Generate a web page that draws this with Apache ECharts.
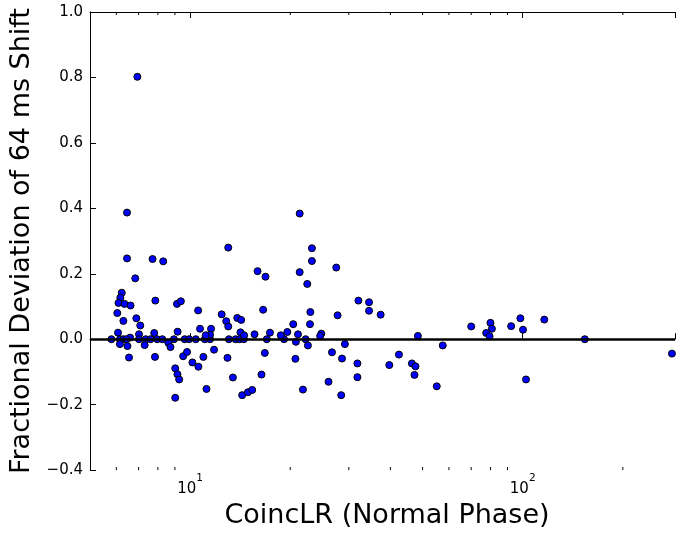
<!DOCTYPE html>
<html><head><meta charset="utf-8">
<script src="https://cdn.jsdelivr.net/npm/echarts@6/dist/echarts.min.js"></script>
<style>html,body{margin:0;padding:0;background:#fff}#c{width:678px;height:534px}</style>
</head><body><div id="c"></div>
<script>
// CoincLR (x) values
const coincLR = [
  6.94, 6.46, 6.46, 7.71, 8.30, 6.84, 6.23, 6.17, 6.09, 6.35, 6.62, 7.86, 9.13, 9.38, 6.04, 10.57,
  6.30, 6.89, 7.08, 9.17, 10.71, 6.07, 7.02, 7.80, 6.60,
  5.80, 6.15, 6.30, 6.43, 7.02, 7.35, 7.60, 7.96, 8.25, 8.94, 9.63, 9.93, 10.40, 11.07, 11.48,
  13.08, 13.70, 14.10, 14.51, 17.0, 19.16, 22.25,
  6.15, 6.48, 7.30, 8.60, 8.73, 6.55, 7.84, 9.53, 9.79, 10.16, 10.59, 10.96, 11.80, 9.02, 9.16,
  9.27, 11.20, 9.02,
  12.44, 12.84, 13.02, 13.86, 14.24, 16.58, 22.99, 27.76, 20.42, 22.93, 11.56, 11.48, 11.14,
  14.17, 14.53, 15.62, 17.38, 18.73, 19.60, 21.10, 24.80, 24.60, 20.80, 22.60, 29.20, 12.95,
  16.77, 20.73, 26.70, 28.62, 13.45, 16.39, 14.34, 14.92, 15.37, 21.84, 26.07, 28.46,
  13.02, 21.35, 15.95, 16.85, 23.24, 23.24, 21.35, 27.50, 22.50,
  32.06, 34.51, 34.51, 37.40, 31.84, 31.84, 39.71, 42.45, 46.43, 47.60, 47.27, 48.40, 57.49,
  55.15, 70.0, 80.0, 80.8, 77.66, 79.5, 92.3, 98.4, 100.2, 102.3, 116.1, 153.7, 281
];
// Fractional deviation (y) values
const fracDev = [
  0.802, 0.387, 0.247, 0.245, 0.238, 0.186, 0.142, 0.127, 0.111, 0.108, 0.103, 0.118, 0.108, 0.116, 0.080, 0.088,
  0.056, 0.064, 0.042, 0.023, 0.032, 0.020, 0.015, 0.019, 0.005,
  0, 0, 0, 0, 0, 0, 0, 0, 0, 0, 0, 0, 0, 0, 0,
  0, 0, 0, 0, 0, 0, 0,
  -0.015, -0.021, -0.018, -0.011, -0.024, -0.056, -0.054, -0.052, -0.039, -0.071, -0.084, -0.054, -0.032, -0.089, -0.107,
  -0.123, -0.152, -0.179,
  0.076, 0.055, 0.039, 0.065, 0.059, 0.090, 0.083, 0.073, 0.046, 0.046, 0.032, 0.014, 0.012,
  0.021, 0.012, 0.015, 0.020, 0.012, 0.022, 0.015, 0.017, 0.010, -0.008, -0.019, -0.015, -0.057,
  -0.042, -0.060, -0.040, -0.059, -0.117, -0.108, -0.171, -0.162, -0.155, -0.154, -0.130, -0.171,
  0.280, 0.384, 0.208, 0.191, 0.278, 0.239, 0.205, 0.219, 0.169,
  0.118, 0.113, 0.087, 0.075, -0.074, -0.116, -0.079, -0.047, -0.074, -0.083, -0.109, 0.010, -0.019,
  -0.144, 0.039, 0.050, 0.032, 0.019, 0.009, 0.040, 0.064, 0.029, -0.123, 0.060, 0.000, -0.044
];
const xRange = [5, 287];
const yRange = [-0.4, 1.0];
const yStep = 0.2;
const xMinorTicks = [6, 7, 8, 9, 20, 30, 40, 50, 60, 70, 80, 90, 200];
const refLineY = 0;
const xTitle = 'CoincLR (Normal Phase)';
const yTitle = 'Fractional Deviation of 64 ms Shift';

const FONT = 'DejaVu Sans';
const chart = echarts.init(document.getElementById('c'), null, {renderer: 'canvas'});
const points = coincLR.map((x, i) => [x, fracDev[i]]);
function isPow10(v) { const l = Math.log10(v); return Math.abs(l - Math.round(l)) < 1e-6; }
const xLabelFmt = v => isPow10(v) ? '{b|10}{s|' + Math.round(Math.log10(v)) + '}' : '';
const spine = {show: true, lineStyle: {color: '#000', width: 1}};

const option = {
  animation: false,
  grid: {left: 90, top: 12, right: 0, bottom: 62},
  xAxis: [{
    type: 'log', logBase: 10, min: xRange[0], max: xRange[1], position: 'bottom',
    name: xTitle, nameLocation: 'middle', nameGap: 26,
    nameTextStyle: {fontFamily: FONT, fontSize: 27, color: '#000', padding: [0, 0, 0, 9]},
    axisLine: spine,
    axisTick: {show: true, inside: true, length: 6, lineStyle: {color: '#000', width: 1}},
    axisLabel: {
      formatter: xLabelFmt, margin: 3,
      rich: {
        b: {fontFamily: FONT, fontSize: 15, color: '#000', lineHeight: 24, verticalAlign: 'bottom'},
        s: {fontFamily: FONT, fontSize: 10.5, color: '#000', lineHeight: 12, verticalAlign: 'top'}
      }
    },
    splitLine: {show: false}, minorTick: {show: false}, minorSplitLine: {show: false}
  }, {
    type: 'log', logBase: 10, min: xRange[0], max: xRange[1], position: 'top',
    axisLine: spine,
    axisTick: {show: true, inside: true, length: 6, lineStyle: {color: '#000', width: 1}},
    axisLabel: {show: false},
    splitLine: {show: false}
  }],
  yAxis: [{
    type: 'value', min: yRange[0], max: yRange[1], interval: yStep,
    name: yTitle, nameLocation: 'middle', nameGap: 43, nameRotate: 90,
    nameTextStyle: {fontFamily: FONT, fontSize: 27, color: '#000'},
    axisLine: spine,
    axisTick: {show: true, inside: true, length: 6, lineStyle: {color: '#000', width: 1}},
    axisLabel: {
      fontFamily: FONT, fontSize: 15, color: '#000', margin: 7,
      formatter: v => (v < 0 ? '\u2212' : '') + Math.abs(v).toFixed(1)
    },
    splitLine: {show: false}
  }],
  series: [{
    type: 'scatter', xAxisIndex: 0, yAxisIndex: 0, data: points,
    symbol: 'circle', symbolSize: 7,
    itemStyle: {color: '#0000ff', borderColor: '#000', borderWidth: 1, opacity: 1},
    z: 2
  }, {
    type: 'scatter', xAxisIndex: 0, yAxisIndex: 0, data: [], z: 4,
    markLine: {
      silent: true, symbol: 'none', label: {show: false}, animation: false,
      lineStyle: {color: '#000', width: 2.5, type: 'solid'},
      data: [{yAxis: refLineY}]
    }
  }, {
    type: 'custom', xAxisIndex: 0, yAxisIndex: 0, silent: true, clip: false, z: 5,
    data: xMinorTicks.map(v => [v, yRange[0]]),
    renderItem: (params, api) => {
      const v = api.value(0);
      const b = api.coord([v, yRange[0]]);
      const t = api.coord([v, yRange[1]]);
      return {type: 'group', children: [
        {type: 'line', shape: {x1: b[0], y1: b[1], x2: b[0], y2: b[1] - 3}, style: {stroke: '#000', lineWidth: 1}},
        {type: 'line', shape: {x1: t[0], y1: t[1], x2: t[0], y2: t[1] + 3}, style: {stroke: '#000', lineWidth: 1}}
      ]};
    }
  }]
};
chart.setOption(option);
</script>
</body></html>
